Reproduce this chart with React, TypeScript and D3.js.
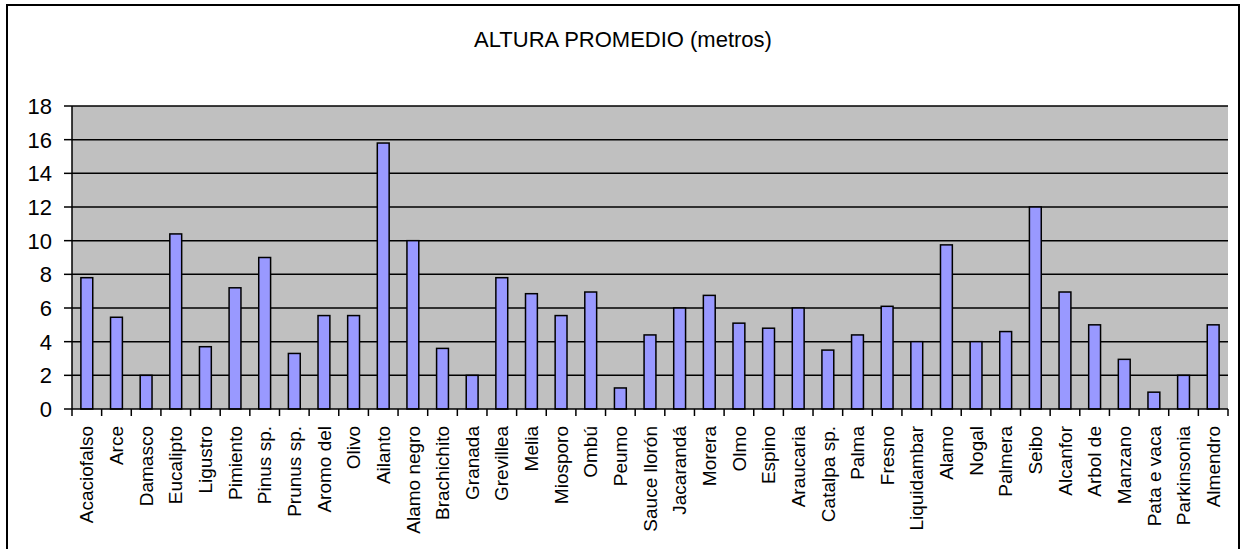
import * as d3 from 'd3'

const categories = [
  'Acaciofalso', 'Arce', 'Damasco', 'Eucalipto', 'Ligustro', 'Pimiento', 'Pinus sp.', 'Prunus sp.',
  'Aromo del', 'Olivo', 'Ailanto', 'Alamo negro', 'Brachichito', 'Granada', 'Grevillea', 'Melia',
  'Miosporo', 'Ombú', 'Peumo', 'Sauce llorón', 'Jacarandá', 'Morera', 'Olmo', 'Espino', 'Araucaria',
  'Catalpa sp.', 'Palma', 'Fresno', 'Liquidambar', 'Alamo', 'Nogal', 'Palmera', 'Seibo', 'Alcanfor',
  'Arbol de', 'Manzano', 'Pata e vaca', 'Parkinsonia', 'Almendro',
]

const alturas = [
  7.8, 5.45, 2, 10.4, 3.7, 7.2, 9, 3.3,
  5.55, 5.55, 15.8, 10, 3.6, 2, 7.8, 6.85,
  5.55, 6.95, 1.25, 4.4, 6, 6.75, 5.1, 4.8, 6,
  3.5, 4.4, 6.1, 4, 9.75, 4, 4.6, 12, 6.95,
  5, 2.95, 1, 2, 5,
]

const yTicks = [0, 2, 4, 6, 8, 10, 12, 14, 16, 18]

const title = 'ALTURA PROMEDIO (metros)'

const W = 1248
const H = 549
const margin = { top: 106, right: 20, bottom: 140, left: 72 }
const font = '"Liberation Sans", Arial, sans-serif'

export default function App() {
  const x = d3
    .scaleBand()
    .domain(categories)
    .range([margin.left, W - margin.right])
    .padding(0)

  const y = d3
    .scaleLinear()
    .domain([0, 18])
    .range([H - margin.bottom, margin.top])

  const barW = x.bandwidth() / 2.5
  const x0 = margin.left
  const x1 = W - margin.right
  const y0 = y(0)

  return (
    <svg
      width={W}
      height={H}
      style={{ position: 'absolute', left: 0, top: 0, background: '#fff' }}
      fontFamily={font}
    >
      <rect x={7} y={5} width={1232} height={560} fill="#fff" stroke="#000" strokeWidth={2} />

      <text x={623} y={47} textAnchor="middle" fontSize={22} fill="#000">
        {title}
      </text>

      <rect x={x0} y={y(18)} width={x1 - x0} height={y0 - y(18)} fill="#c0c0c0" />

      {yTicks.slice(1).map((t) => (
        <line key={'g' + t} x1={x0} x2={x1} y1={y(t)} y2={y(t)} stroke="#000" strokeWidth={1.5} />
      ))}

      {categories.map((c, i) => (
        <rect
          key={c}
          x={(x(c) || 0) + (x.bandwidth() - barW) / 2}
          y={y(alturas[i])}
          width={barW}
          height={y0 - y(alturas[i])}
          fill="#9999ff"
          stroke="#000"
          strokeWidth={1.5}
        />
      ))}

      <line x1={x0} x2={x0} y1={y(18)} y2={y0} stroke="#000" strokeWidth={1.5} />
      <line x1={x0} x2={x1} y1={y0} y2={y0} stroke="#000" strokeWidth={1.5} />

      {yTicks.map((t) => (
        <g key={'y' + t}>
          <line x1={x0 - 8} x2={x0} y1={y(t)} y2={y(t)} stroke="#000" strokeWidth={1.5} />
          <text x={52} y={y(t)} dy="0.36em" textAnchor="end" fontSize={22} fill="#000">
            {t}
          </text>
        </g>
      ))}

      {categories.map((c) => (
        <line
          key={'t' + c}
          x1={x(c) || 0}
          x2={x(c) || 0}
          y1={y0}
          y2={y0 + 7}
          stroke="#000"
          strokeWidth={1.5}
        />
      ))}
      <line x1={x1} x2={x1} y1={y0} y2={y0 + 7} stroke="#000" strokeWidth={1.5} />

      {categories.map((c) => (
        <text
          key={'l' + c}
          transform={`translate(${(x(c) || 0) + x.bandwidth() / 2},${y0 + 17}) rotate(-90)`}
          dy="0.35em"
          textAnchor="end"
          fontSize={19}
          fill="#000"
        >
          {c}
        </text>
      ))}
    </svg>
  )
}
